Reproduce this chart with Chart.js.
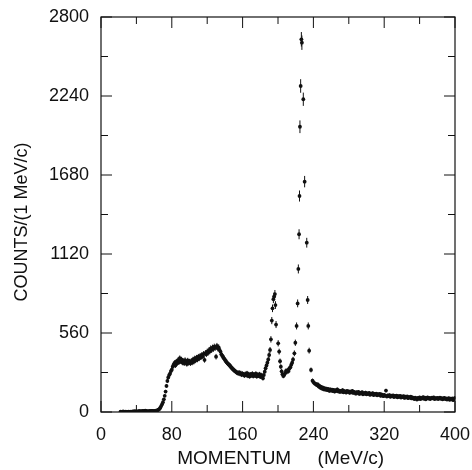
<!DOCTYPE html>
<html>
<head>
<meta charset="utf-8">
<script src="https://cdn.jsdelivr.net/npm/chart.js@4/dist/chart.umd.min.js"></script>
<style>
html,body{margin:0;padding:0;background:#fff;}
#c{display:block;}
</style>
</head>
<body>
<canvas id="c" width="472" height="470"></canvas>
<script>
// ---- Data ----
const momentum = [
  22,23,24,25,26,27,28,29,30,31,
  32,33,34,35,36,37,38,39,40,41,
  42,43,44,45,46,47,48,49,50,51,
  52,53,54,55,56,57,58,59,60,61,
  62,63,64,65,66,67,68,69,70,71,
  72,73,74,75,76,77,78,79,80,81,
  82,83,84,85,86,87,88,89,90,91,
  92,93,94,95,96,97,98,99,100,101,
  102,103,104,105,106,107,108,109,110,111,
  112,113,114,115,116,117,118,119,120,121,
  122,123,124,125,126,127,128,129,130,131,
  132,133,134,135,136,137,138,139,140,141,
  142,143,144,145,146,147,148,149,150,151,
  152,153,154,155,156,157,158,159,160,161,
  162,163,164,165,166,167,168,169,170,171,
  172,173,174,175,176,177,178,179,180,181,
  182,183,184,185,186,187,188,189,190,
  191,192,193,193.8,194.8,195.6,196.5,197.1,197.8,200.2,
  201.3,202.3,203.2,204.1,205,206,207,208,209,210,
  211,212,213,214,215,216,217,218.5,219.6,221,
  222.2,223,223.8,224.3,224.8,225.6,226.4,227,228.6,230.1,
  232.5,233.5,234.2,235.2,237.3,239,240,241,
  242,243,244,245,246,247,248,249,250,251,
  252,253,254,255,256,257,258,259,260,261,
  262,263,264,265,266,267,268,269,270,271,
  272,273,274,275,276,277,278,279,280,281,
  282,283,284,285,286,287,288,289,290,291,
  292,293,294,295,296,297,298,299,300,301,
  302,303,304,305,306,307,308,309,310,311,
  312,313,314,315,316,317,318,319,320,321,
  322,323,324,325,326,327,328,329,330,331,
  332,333,334,335,336,337,338,339,340,341,
  342,343,344,345,346,347,348,349,350,351,
  352,353,354,355,356,357,358,359,360,361,
  362,363,364,365,366,367,368,369,370,371,
  372,373,374,375,376,377,378,379,380,381,
  382,383,384,385,386,387,388,389,390,391,
  392,393,394,395,396,397,398,399,400
];
const counts = [
  2,0,1,4,1,0,2,1,0,2,
  1,3,1,2,5,3,6,4,2,5,
  3,7,4,6,5,8,6,7,9,8,
  5,6,4,7,6,8,7,6,8,7,
  9,10,13,17,22,30,42,55,70,90,
  115,145,185,220,245,262,272,290,300,321,
  335,348,330,357,345,368,352,381,360,372,
  350,362,345,368,352,340,365,348,358,345,
  362,350,372,357,380,366,385,372,392,380,
  398,388,405,395,412,369,418,410,428,420,
  438,430,451,440,456,448,463,455,392,468,
  451,458,440,428,410,398,390,380,370,362,
  352,345,338,333,326,318,310,304,298,292,
  288,282,278,274,280,270,276,264,272,266,
  258,270,262,275,256,268,252,266,260,272,
  254,266,258,272,252,264,257,268,250,262,
  258,239,262,286,310,330,350,372,404,
  440,515,648,735,800,818,836,758,620,487,
  428,360,321,288,268,255,262,275,292,284,
  296,290,310,318,335,350,372,416,491,610,
  770,1014,1260,1531,2022,2311,2642,2618,2217,1633,
  1200,794,610,435,298,222,212,205,
  200,198,190,195,180,185,172,178,165,172,
  160,168,158,165,155,162,150,160,152,158,
  148,156,145,154,150,160,146,152,142,150,
  145,155,140,148,144,138,150,142,146,136,
  145,140,150,135,142,138,130,140,135,142,
  128,136,132,140,126,134,130,138,125,132,
  128,136,122,130,126,133,120,128,124,130,
  118,126,122,128,115,124,120,112,122,116,
  152,110,118,112,120,108,116,112,118,106,
  114,110,116,104,112,108,114,102,110,106,
  112,100,108,104,110,98,106,102,108,96,
  104,100,92,102,96,88,100,94,104,92,
  100,96,106,94,102,90,98,104,95,100,
  92,98,102,96,104,92,98,95,100,92,
  98,102,94,98,90,96,100,92,96,88,
  94,98,86,94,90,96,84,92,100
];
const xTickLabels = [0, 80, 160, 240, 320, 400];
const yTickLabels = [0, 560, 1120, 1680, 2240, 2800];
const xMinorTicks = [40, 120, 200, 280, 360];
const yMinorTicks = [280, 840, 1400, 1960, 2520];
const xTitle = ' MOMENTUM     (MeV/c)';
const yTitle = 'COUNTS/(1 MeV/c)   ';

if (momentum.length !== counts.length) console.error('length mismatch', momentum.length, counts.length);

const FONT = 'Liberation Sans, Arial, Helvetica, sans-serif';
const INK = '#111';

const framePlugin = {
  id: 'frameTicks',
  afterDatasetsDraw(chart) {
    const {ctx, scales: {x, y}} = chart;
    ctx.save();
    ctx.strokeStyle = INK;
    ctx.lineWidth = 1;
    for (let i = 0; i < momentum.length; i++) {
      const c = counts[i];
      if (c <= 0) continue;
      const e = Math.sqrt(c);
      const px = x.getPixelForValue(momentum[i]);
      ctx.beginPath();
      ctx.moveTo(px, y.getPixelForValue(c + e));
      ctx.lineTo(px, y.getPixelForValue(Math.max(0, c - e)));
      ctx.stroke();
    }
    ctx.restore();
  },
  afterDraw(chart) {
    const {ctx, chartArea: a, scales: {x, y}} = chart;
    ctx.save();
    ctx.strokeStyle = INK;
    ctx.lineWidth = 1.2;
    ctx.strokeRect(a.left, a.top, a.right - a.left, a.bottom - a.top);
    const MAJ = 11, MIN = 7;
    ctx.lineWidth = 1;
    ctx.beginPath();
    const xt = (v, len) => {
      const p = x.getPixelForValue(v);
      ctx.moveTo(p, a.bottom); ctx.lineTo(p, a.bottom - len);
      ctx.moveTo(p, a.top); ctx.lineTo(p, a.top + len);
    };
    const yt = (v, len) => {
      const p = y.getPixelForValue(v);
      ctx.moveTo(a.left, p); ctx.lineTo(a.left + len, p);
      ctx.moveTo(a.right, p); ctx.lineTo(a.right - len, p);
    };
    xTickLabels.forEach(v => xt(v, MAJ));
    xMinorTicks.forEach(v => xt(v, MIN));
    yTickLabels.forEach(v => yt(v, MAJ));
    yMinorTicks.forEach(v => yt(v, MIN));
    ctx.stroke();
    ctx.restore();
  }
};

new Chart(document.getElementById('c'), {
  type: 'scatter',
  data: {
    datasets: [{
      data: momentum.map((m, i) => ({x: m, y: counts[i]})),
      pointRadius: 1.9,
      pointStyle: 'circle',
      pointBackgroundColor: INK,
      pointBorderWidth: 0,
      showLine: false
    }]
  },
  options: {
    responsive: false,
    animation: false,
    devicePixelRatio: 1,
    layout: {padding: {left: 0, right: 17, top: 17, bottom: 0}},
    plugins: {legend: {display: false}, tooltip: {enabled: false}},
    scales: {
      x: {
        type: 'linear', min: 0, max: 400,
        afterBuildTicks: s => { s.ticks = xTickLabels.map(v => ({value: v})); },
        afterFit: s => { s.height = 58; s.paddingLeft = 0; s.paddingRight = 0; },
        grid: {display: false, drawTicks: false},
        border: {display: false},
        ticks: {color: INK, font: {family: FONT, size: 18}, padding: 12, maxRotation: 0, autoSkip: false, callback: v => String(v)},
        title: {display: true, text: xTitle, color: INK, font: {family: FONT, size: 19}, padding: {top: 0, bottom: 0}}
      },
      y: {
        type: 'linear', min: 0, max: 2800,
        afterBuildTicks: s => { s.ticks = yTickLabels.map(v => ({value: v})); },
        afterFit: s => { s.width = 101; s.paddingTop = 0; s.paddingBottom = 0; },
        grid: {display: false, drawTicks: false},
        border: {display: false},
        ticks: {color: INK, font: {family: FONT, size: 18}, padding: 12, autoSkip: false, callback: v => String(v)},
        title: {display: true, text: yTitle, color: INK, font: {family: FONT, size: 18}, padding: {top: 11, bottom: 0}}
      }
    }
  },
  plugins: [framePlugin]
});
</script>
</body>
</html>
